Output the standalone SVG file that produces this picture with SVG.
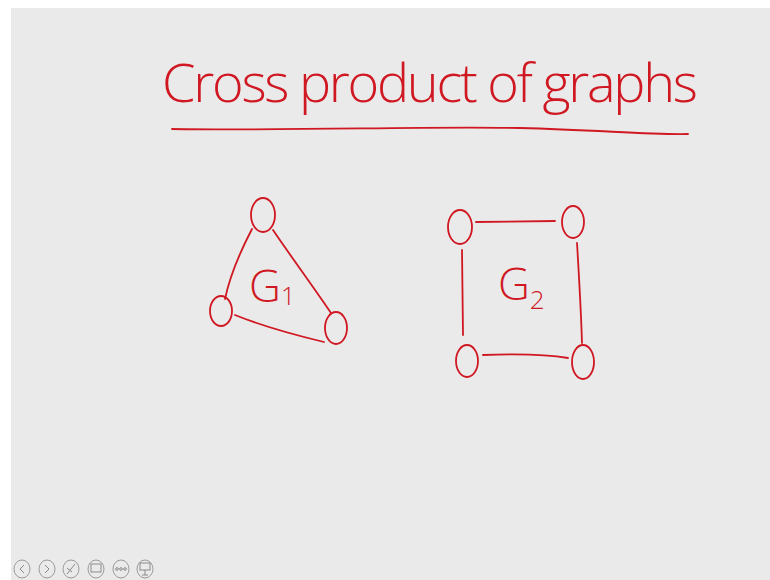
<svg xmlns="http://www.w3.org/2000/svg" width="770" height="580" viewBox="0 0 770 580">
<style>
.ink{fill:none;stroke:#d01822;stroke-width:1.8;stroke-linecap:round;stroke-linejoin:round}
.hand{font-family:"Open Sans","Liberation Sans",sans-serif;font-weight:300;fill:#d01822}
.btn{fill:none;stroke:#9a9a9a;stroke-width:1}
.glyph{fill:none;stroke:#8a8a8a;stroke-width:1}
</style>
<rect x="0" y="0" width="770" height="580" fill="#ffffff"/>
<rect x="11" y="8" width="759" height="572" fill="#eaeaea"/>

<g id="title">
<text class="hand" x="162" y="102" font-size="54" textLength="536" lengthAdjust="spacing">Cross product of graphs</text>
<path class="ink" d="M172,129 C300,131 420,126 520,128 C600,130 650,135 688,134"/>
</g>

<g id="connectors">
<path class="ink" d="M252,229 C240,252 230,275 225,299"/>
<path class="ink" d="M273,230 C292,258 312,285 331,313"/>
<path class="ink" d="M235,315 C262,326 295,335 324,342"/>
<path class="ink" d="M476,222 L555,221"/>
<path class="ink" d="M462,250 L463,335"/>
<path class="ink" d="M577,243 C579,276 581,310 582,343"/>
<path class="ink" d="M483,355 C510,354 545,354 568,358"/>
</g>

<g id="g1-top"><ellipse class="ink" cx="263" cy="215" rx="12" ry="17"/></g>
<g id="g1-left"><ellipse class="ink" cx="221" cy="311" rx="11" ry="15"/></g>
<g id="g1-right"><ellipse class="ink" cx="336" cy="328" rx="11" ry="16"/></g>
<g id="g1-label"><text class="hand" x="249" y="302" font-size="44">G<tspan font-size="26" dy="3">1</tspan></text></g>

<g id="g2-tl"><ellipse class="ink" cx="460" cy="227" rx="12" ry="17"/></g>
<g id="g2-tr"><ellipse class="ink" cx="573" cy="222" rx="11" ry="16"/></g>
<g id="g2-bl"><ellipse class="ink" cx="467" cy="361" rx="11" ry="16"/></g>
<g id="g2-br"><ellipse class="ink" cx="583" cy="362" rx="11" ry="17"/></g>
<g id="g2-label"><text class="hand" x="498" y="300" font-size="44">G<tspan font-size="26" dy="9">2</tspan></text></g>

<g id="toolbar">
<ellipse class="btn" cx="22" cy="569" rx="8" ry="9"/>
<path class="glyph" d="M24,565 L20,569 L24,573"/>
<ellipse class="btn" cx="47" cy="569" rx="8" ry="9"/>
<path class="glyph" d="M45,565 L49,569 L45,573"/>
<ellipse class="btn" cx="71" cy="569" rx="8" ry="9"/>
<path class="glyph" d="M67,574 L75,564 M67,568 L72,572" stroke-width="2"/>
<ellipse class="btn" cx="96" cy="569" rx="8" ry="9"/>
<rect class="glyph" x="91" y="564" width="10" height="8"/>
<ellipse class="btn" cx="121" cy="569" rx="8" ry="9"/>
<circle class="glyph" cx="117" cy="569" r="1.3"/><circle class="glyph" cx="121" cy="569" r="1.3"/><circle class="glyph" cx="125" cy="569" r="1.3"/>
<ellipse class="btn" cx="145" cy="569" rx="8" ry="9"/>
<rect class="glyph" x="140" y="563" width="10" height="7"/>
<path class="glyph" d="M145,570 L145,575 M142,575 L148,575"/>
</g>
</svg>
